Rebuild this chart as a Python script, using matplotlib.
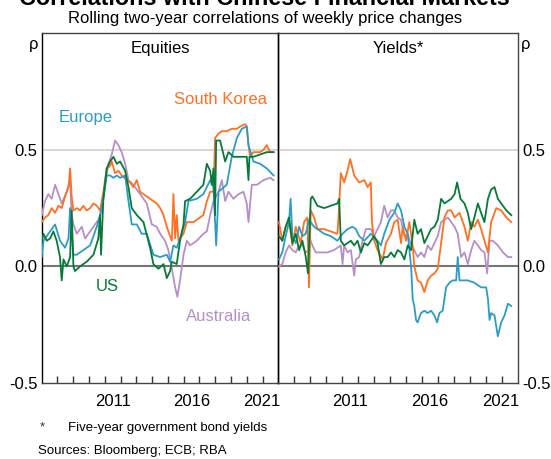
import matplotlib
matplotlib.use('Agg')
import matplotlib.pyplot as plt

plt.rcParams['font.family'] = ['Liberation Sans', 'DejaVu Sans']

# colours
c_korea = '#FF7020'
c_europe = '#2C9CC4'
c_us = '#067A38'
c_aus = '#B68FC8'

# ---- Equities (year, correlation) ----
eq_korea_x = [2007.00, 2007.21, 2007.42, 2007.63, 2007.85, 2008.06, 2008.27, 2008.48, 2008.70, 2008.80,
              2008.90, 2009.01, 2009.22, 2009.43, 2009.64, 2009.85, 2010.07, 2010.28, 2010.49, 2010.70,
              2010.91, 2011.12, 2011.33, 2011.44, 2011.65, 2011.86, 2012.07, 2012.39, 2012.60, 2012.81,
              2013.03, 2013.24, 2013.45, 2013.66, 2013.87, 2014.08, 2014.29, 2014.51, 2014.72, 2014.93,
              2015.03, 2015.25, 2015.35, 2015.46, 2015.56, 2015.67, 2015.88, 2015.99, 2016.20, 2016.41,
              2016.62, 2016.83, 2017.04, 2017.25, 2017.47, 2017.68, 2017.89, 2017.99, 2018.21, 2018.42,
              2018.73, 2019.05, 2019.37, 2019.58, 2019.90, 2020.00, 2020.11, 2020.21, 2020.42, 2020.64,
              2020.85, 2021.06, 2021.27, 2021.48, 2021.70]
eq_korea_y = [0.19, 0.21, 0.22, 0.25, 0.23, 0.26, 0.25, 0.30, 0.34, 0.42,
              0.30, 0.24, 0.25, 0.24, 0.26, 0.24, 0.25, 0.27, 0.26, 0.24,
              0.32, 0.42, 0.43, 0.45, 0.40, 0.41, 0.39, 0.37, 0.36, 0.34,
              0.37, 0.32, 0.31, 0.30, 0.29, 0.28, 0.27, 0.25, 0.22, 0.17,
              0.15, 0.11, 0.31, 0.12, 0.22, 0.11, 0.13, 0.14, 0.19, 0.19,
              0.19, 0.20, 0.21, 0.22, 0.28, 0.32, 0.32, 0.55, 0.57, 0.58,
              0.58, 0.59, 0.59, 0.60, 0.61, 0.60, 0.52, 0.47, 0.49, 0.49,
              0.49, 0.50, 0.52, 0.49, 0.49]

eq_us_x = [2007.00, 2007.11, 2007.32, 2007.53, 2007.74, 2007.95, 2008.16, 2008.27, 2008.38, 2008.59,
           2008.80, 2008.90, 2009.01, 2009.11, 2009.43, 2009.85, 2010.28, 2010.59, 2010.70, 2010.76,
           2010.91, 2011.12, 2011.33, 2011.55, 2011.76, 2011.97, 2012.29, 2012.50, 2012.71, 2013.03,
           2013.45, 2013.87, 2014.08, 2014.40, 2014.72, 2014.93, 2015.14, 2015.25, 2015.56, 2015.77,
           2015.99, 2016.09, 2016.41, 2016.83, 2017.25, 2017.47, 2017.68, 2017.78, 2017.89, 2017.99,
           2018.06, 2018.31, 2018.63, 2018.84, 2019.16, 2019.58, 2020.00, 2020.11, 2020.17, 2020.42,
           2020.85, 2021.27, 2021.70]
eq_us_y = [0.11, 0.14, 0.11, 0.12, 0.15, 0.11, 0.04, -0.06, 0.03, 0.00,
           0.04, 0.24, 0.00, -0.02, 0.00, 0.02, 0.05, 0.12, 0.22, 0.05,
           0.29, 0.42, 0.45, 0.47, 0.44, 0.45, 0.41, 0.34, 0.25, 0.22,
           0.19, 0.08, 0.01, -0.01, 0.01, -0.05, -0.02, 0.02, 0.01, 0.11,
           0.18, 0.28, 0.29, 0.32, 0.35, 0.44, 0.41, 0.35, 0.42, 0.22,
           0.54, 0.54, 0.45, 0.49, 0.47, 0.47, 0.47, 0.37, 0.47, 0.47,
           0.48, 0.49, 0.49]

eq_europe_x = [2007.00, 2007.11, 2007.53, 2007.85, 2008.16, 2008.48, 2008.70, 2008.80, 2009.01, 2009.22,
               2009.64, 2010.07, 2010.49, 2010.70, 2010.91, 2011.12, 2011.33, 2011.55, 2011.76, 2011.97,
               2012.29, 2012.50, 2012.71, 2013.03, 2013.34, 2013.66, 2014.08, 2014.51, 2014.93, 2015.14,
               2015.35, 2015.56, 2015.77, 2016.09, 2016.30, 2016.83, 2017.25, 2017.68, 2017.89, 2018.06,
               2018.21, 2018.73, 2019.05, 2019.37, 2019.68, 2020.00, 2020.11, 2020.42, 2020.85, 2021.27,
               2021.70]
eq_europe_y = [0.04, 0.11, 0.15, 0.18, 0.11, 0.08, 0.12, 0.25, 0.05, 0.05,
               0.07, 0.09, 0.17, 0.22, 0.29, 0.39, 0.39, 0.38, 0.39, 0.38,
               0.39, 0.28, 0.18, 0.18, 0.14, 0.14, 0.05, 0.04, 0.05, 0.02,
               0.09, 0.08, 0.12, 0.19, 0.28, 0.29, 0.31, 0.37, 0.34, 0.09,
               0.32, 0.35, 0.47, 0.55, 0.59, 0.60, 0.52, 0.45, 0.44, 0.42,
               0.39]

eq_aus_x = [2007.00, 2007.21, 2007.42, 2007.63, 2007.85, 2008.06, 2008.27, 2008.59, 2008.80, 2008.90,
            2009.01, 2009.22, 2009.54, 2009.75, 2010.07, 2010.38, 2010.70, 2010.91, 2011.23, 2011.44,
            2011.65, 2011.86, 2012.07, 2012.29, 2012.50, 2012.81, 2013.24, 2013.66, 2013.98, 2014.29,
            2014.51, 2014.82, 2015.03, 2015.25, 2015.46, 2015.60, 2015.77, 2015.99, 2016.20, 2016.41,
            2016.83, 2017.25, 2017.47, 2017.68, 2017.89, 2018.21, 2018.42, 2018.63, 2018.84, 2019.16,
            2019.47, 2019.79, 2020.00, 2020.11, 2020.32, 2020.64, 2021.06, 2021.48, 2021.70]
eq_aus_y = [0.22, 0.28, 0.31, 0.29, 0.35, 0.31, 0.27, 0.32, 0.37, 0.22,
            0.18, 0.14, 0.17, 0.12, 0.15, 0.18, 0.21, 0.31, 0.44, 0.48,
            0.54, 0.52, 0.49, 0.44, 0.37, 0.35, 0.31, 0.27, 0.18, 0.17,
            0.14, 0.11, 0.07, -0.01, -0.09, -0.13, -0.06, 0.05, 0.11, 0.09,
            0.11, 0.14, 0.15, 0.22, 0.28, 0.32, 0.37, 0.28, 0.32, 0.29,
            0.31, 0.32, 0.27, 0.19, 0.35, 0.35, 0.37, 0.38, 0.37]

# ---- Yields (year, correlation) ----
yl_korea_x = [2007.04, 2007.25, 2007.46, 2007.67, 2007.88, 2008.09, 2008.40, 2008.61, 2008.82, 2008.92,
              2009.03, 2009.24, 2009.45, 2009.87, 2010.28, 2010.70, 2010.81, 2010.91, 2011.12, 2011.33,
              2011.50, 2011.75, 2012.06, 2012.38, 2012.59, 2012.79, 2012.86, 2013.00, 2013.21, 2013.53,
              2013.74, 2014.05, 2014.26, 2014.47, 2014.68, 2014.78, 2014.99, 2015.20, 2015.41, 2015.51,
              2015.72, 2015.93, 2016.14, 2016.35, 2016.56, 2016.77, 2016.98, 2017.19, 2017.40, 2017.61,
              2017.82, 2018.03, 2018.34, 2018.65, 2018.86, 2019.07, 2019.27, 2019.49, 2019.69, 2019.90,
              2020.12, 2020.32, 2020.64, 2020.95, 2021.27, 2021.58]
yl_korea_y = [0.19, 0.11, 0.17, 0.20, 0.09, 0.17, 0.10, 0.19, 0.21, -0.09,
              0.24, 0.21, 0.16, 0.16, 0.15, 0.14, 0.26, 0.40, 0.36, 0.41,
              0.46, 0.39, 0.36, 0.37, 0.34, 0.36, 0.19, 0.11, 0.07, 0.03,
              0.10, 0.14, 0.19, 0.20, 0.10, 0.17, 0.11, 0.19, 0.09, 0.00,
              -0.06, -0.07, -0.11, -0.06, -0.04, -0.03, -0.01, 0.10, 0.21, 0.24,
              0.24, 0.21, 0.23, 0.17, 0.11, 0.19, 0.17, 0.20, 0.16, 0.11,
              0.06, 0.19, 0.25, 0.24, 0.21, 0.19]

yl_us_x = [2007.04, 2007.25, 2007.46, 2007.67, 2007.88, 2008.09, 2008.30, 2008.51, 2008.72, 2008.86,
           2009.03, 2009.13, 2009.45, 2009.87, 2010.28, 2010.70, 2010.81, 2010.91, 2011.12, 2011.33,
           2011.54, 2011.75, 2011.96, 2012.17, 2012.38, 2012.59, 2012.79, 2013.00, 2013.21, 2013.42,
           2013.63, 2013.84, 2014.05, 2014.26, 2014.47, 2014.68, 2014.89, 2015.10, 2015.31, 2015.51,
           2015.72, 2015.93, 2016.14, 2016.35, 2016.56, 2016.77, 2016.98, 2017.19, 2017.40, 2017.61,
           2017.82, 2018.03, 2018.19, 2018.40, 2018.65, 2018.86, 2019.07, 2019.27, 2019.49, 2019.69,
           2019.90, 2020.12, 2020.32, 2020.53, 2020.74, 2020.95, 2021.27, 2021.58]
yl_us_y = [0.13, 0.11, 0.17, 0.21, 0.10, 0.14, 0.07, 0.11, 0.04, -0.03,
           0.29, 0.30, 0.26, 0.25, 0.26, 0.27, 0.29, 0.11, 0.09, 0.10,
           0.11, 0.09, 0.11, 0.06, 0.10, 0.09, 0.11, 0.13, 0.10, 0.01,
           0.04, 0.04, 0.06, 0.04, 0.07, 0.06, 0.03, 0.09, 0.07, 0.20,
           0.14, 0.16, 0.10, 0.13, 0.16, 0.17, 0.20, 0.29, 0.27, 0.28,
           0.29, 0.31, 0.36, 0.29, 0.27, 0.23, 0.16, 0.21, 0.27, 0.23,
           0.19, 0.29, 0.33, 0.34, 0.29, 0.27, 0.24, 0.22]

yl_europe_x = [2007.04, 2007.25, 2007.46, 2007.67, 2007.77, 2007.88, 2008.09, 2008.30, 2008.51, 2008.72,
               2008.92, 2009.24, 2009.45, 2009.87, 2010.28, 2010.70, 2011.02, 2011.33, 2011.64, 2011.85,
               2012.06, 2012.38, 2012.79, 2013.21, 2013.42, 2013.63, 2013.95, 2014.26, 2014.47, 2014.68,
               2014.89, 2015.10, 2015.31, 2015.41, 2015.51, 2015.62, 2015.72, 2015.93, 2016.14, 2016.35,
               2016.56, 2016.77, 2016.94, 2017.08, 2017.29, 2017.50, 2017.71, 2017.92, 2018.13, 2018.23,
               2018.34, 2018.55, 2018.86, 2019.27, 2019.69, 2020.01, 2020.12, 2020.22, 2020.32, 2020.53,
               2020.74, 2020.95, 2021.16, 2021.37, 2021.58]
yl_europe_y = [0.03, 0.06, 0.13, 0.19, 0.29, 0.13, 0.10, 0.17, 0.13, 0.14,
               0.20, 0.17, 0.16, 0.14, 0.13, 0.11, 0.14, 0.16, 0.17, 0.16,
               0.13, 0.11, 0.14, 0.11, 0.09, 0.14, 0.20, 0.23, 0.27, 0.24,
               0.17, 0.14, 0.00, -0.14, -0.17, -0.23, -0.24, -0.20, -0.19, -0.20,
               -0.19, -0.21, -0.24, -0.20, -0.19, -0.09, -0.07, -0.06, -0.06, 0.04,
               -0.06, -0.06, -0.06, -0.07, -0.09, -0.09, -0.14, -0.23, -0.20, -0.21,
               -0.30, -0.24, -0.21, -0.16, -0.17]

yl_aus_x = [2007.04, 2007.25, 2007.46, 2007.67, 2007.88, 2008.09, 2008.30, 2008.51, 2008.72, 2008.92,
            2009.03, 2009.13, 2009.34, 2009.66, 2010.08, 2010.49, 2010.91, 2011.02, 2011.12, 2011.33,
            2011.54, 2011.75, 2011.85, 2012.06, 2012.27, 2012.48, 2012.79, 2013.00, 2013.21, 2013.42,
            2013.63, 2013.84, 2014.05, 2014.26, 2014.47, 2014.68, 2014.89, 2015.10, 2015.31, 2015.51,
            2015.72, 2015.93, 2016.14, 2016.35, 2016.56, 2016.77, 2016.98, 2017.19, 2017.40, 2017.61,
            2017.82, 2018.03, 2018.23, 2018.44, 2018.65, 2018.86, 2019.07, 2019.27, 2019.49, 2019.69,
            2019.90, 2020.07, 2020.22, 2020.43, 2020.74, 2021.06, 2021.37, 2021.58]
yl_aus_y = [0.00, 0.01, 0.06, 0.09, 0.07, 0.06, 0.09, 0.09, 0.06, 0.07,
            0.11, 0.09, 0.06, 0.06, 0.06, 0.07, 0.09, 0.01, 0.09, 0.06,
            0.07, -0.04, 0.03, 0.04, 0.11, 0.16, 0.16, 0.13, 0.16, 0.19,
            0.26, 0.21, 0.24, 0.24, 0.21, 0.20, 0.13, 0.14, 0.09, 0.07,
            0.04, 0.06, 0.04, 0.09, 0.07, 0.10, 0.13, 0.19, 0.20, 0.21,
            0.19, 0.17, 0.14, 0.04, 0.06, 0.01, 0.07, 0.11, 0.09, 0.07,
            0.06, -0.03, 0.11, 0.11, 0.09, 0.06, 0.04, 0.04]

year_ticks = list(range(2008, 2022))
year_labels = ['2011', '2016', '2021']
year_label_pos = [2011.5, 2016.5, 2020.95]
y_ticks = [-0.5, 0.0, 0.5]
y_labels = ['-0.5', '0.0', '0.5']

fs = 12
fig = plt.figure(figsize=(5.51, 4.59), dpi=100)
ax1 = fig.add_axes([0.0757, 0.1656, 0.4294, 0.762])
ax2 = fig.add_axes([0.5051, 0.1656, 0.4350, 0.762])
ax2.patch.set_visible(False)

panels = [
    (ax1, 'Equities', [(eq_aus_x, eq_aus_y, c_aus), (eq_korea_x, eq_korea_y, c_korea),
                       (eq_europe_x, eq_europe_y, c_europe), (eq_us_x, eq_us_y, c_us)]),
    (ax2, 'Yields*', [(yl_aus_x, yl_aus_y, c_aus), (yl_korea_x, yl_korea_y, c_korea),
                      (yl_europe_x, yl_europe_y, c_europe), (yl_us_x, yl_us_y, c_us)]),
]

for ax, name, series in panels:
    ax.set_xlim(2007, 2022)
    ax.set_ylim(-0.5, 1.0)
    ax.axhline(0.5, color='#d0d0d0', lw=1.2, zorder=1)
    ax.axhline(0.0, color='#777777', lw=1.5, zorder=1)
    for xs, ys, col in series:
        ax.plot(xs, ys, color=col, lw=1.3, zorder=3)
    ax.set_xticks(year_ticks)
    ax.set_xticklabels([])
    ax.set_xticks(year_label_pos, minor=True)
    ax.set_xticklabels(year_labels, minor=True, fontsize=fs)
    ax.tick_params(axis='x', which='major', direction='in', length=5, width=1, color='#333333')
    ax.tick_params(axis='x', which='minor', length=0, pad=8)
    ax.set_yticks(y_ticks)
    ax.text(0.5, 0.955, name, transform=ax.transAxes, ha='center', va='center', fontsize=fs)
    for sp in ax.spines.values():
        sp.set_color('#444444')
        sp.set_linewidth(1.0)

ax1.set_yticklabels(y_labels, fontsize=fs)
ax1.tick_params(axis='y', length=0, pad=3)
ax1.spines['left'].set_color('black')
ax1.spines['right'].set_color('black')
ax1.spines['right'].set_zorder(5)
ax2.spines['left'].set_color('black')
ax2.yaxis.tick_right()
ax2.set_yticklabels(y_labels, fontsize=fs)
ax2.tick_params(axis='y', length=0, pad=3)

# series labels
ax1.text(2009.8, 0.64, 'Europe', color=c_europe, fontsize=fs, ha='center', va='center')
ax1.text(2018.35, 0.715, 'South Korea', color=c_korea, fontsize=fs, ha='center', va='center')
ax1.text(2011.15, -0.085, 'US', color=c_us, fontsize=fs, ha='center', va='center')
ax1.text(2018.2, -0.215, 'Australia', color=c_aus, fontsize=fs, ha='center', va='center')

# rho markers
fig.text(38 / 551, 1 - 45 / 459, 'ρ', ha='right', va='center', fontsize=fs)
fig.text(521 / 551, 1 - 45 / 459, 'ρ', ha='left', va='center', fontsize=fs)

# titles
fig.text(264 / 551, 1 - 5 / 459, 'Correlations with Chinese Financial Markets',
         ha='center', va='baseline', fontsize=16.8, fontweight='bold')
fig.text(265 / 551, 1 - 19 / 459, 'Rolling two-year correlations of weekly price changes',
         ha='center', va='center', fontsize=fs)

# notes
fig.text(40 / 551, 1 - 427 / 459, '*', ha='left', va='center', fontsize=9.5, color='#333333')
fig.text(68 / 551, 1 - 428 / 459, 'Five-year government bond yields', ha='left', va='center', fontsize=9.5)
fig.text(38 / 551, 1 - 451 / 459, 'Sources: Bloomberg; ECB; RBA', ha='left', va='center', fontsize=9.5)

fig.savefig('out.png', dpi=100)
